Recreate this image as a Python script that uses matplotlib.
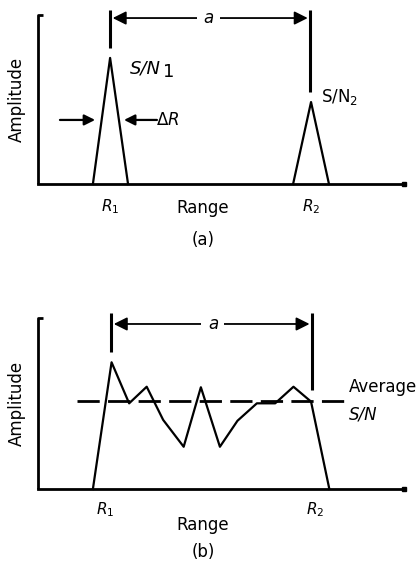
import matplotlib
matplotlib.use("Agg")
import matplotlib.pyplot as plt

plt.rcParams['font.family'] = ['DejaVu Sans']
plt.rcParams['mathtext.fontset'] = 'dejavusans'

# panel (a): two isolated targets (x = range, y = amplitude, both 0..100)
peak1_x = [15.0, 19.7, 24.6]
peak1_y = [0, 74.6, 0]
peak2_x = [69.7, 74.6, 79.5]
peak2_y = [0, 48.5, 0]

# panel (b): distributed return
sig_x = [15.0, 20.1, 24.9, 29.7, 34.2, 39.8, 44.5, 49.7, 54.5, 59.8, 64.8, 69.8, 74.6, 79.6]
sig_y = [0, 74.1, 50.1, 59.8, 40.4, 24.7, 59.5, 24.7, 39.9, 50.1, 50.1, 59.8, 51.1, 0]
avg_level = 51.5
avg_span = [10.7, 83.9]

fig = plt.figure(figsize=(4.19, 5.62), dpi=100)
ax_a = fig.add_axes([38 / 419, 1 - 184 / 562, 366 / 419, 169 / 562])
ax_b = fig.add_axes([38 / 419, 1 - 489 / 562, 366 / 419, 171 / 562])

LW_AX = 2.0
LW_MARK = 2.2
LW = 1.6
FS = 12


def frame(ax):
    ax.set_xlim(0, 100)
    ax.set_ylim(0, 100)
    ax.axis('off')
    ax.plot([1.3, 0, 0], [100, 100, 0], color='k', lw=LW_AX, clip_on=False,
            solid_capstyle='butt')
    ax.plot([0, 100], [0, 0], color='k', lw=LW_AX, clip_on=False)
    ax.plot([100], [0], 's', color='k', ms=3, clip_on=False)
    ax.text(-5.7, 50, 'Amplitude', rotation=90, ha='center', va='center', fontsize=FS)


def span_arrow(ax, x1, x2, y_top, y1_bot, y2_bot, y_arr, label_x):
    ax.plot([x1, x1], [y1_bot, y_top], color='k', lw=LW_MARK, clip_on=False,
            solid_capstyle='butt')
    ax.plot([x2, x2], [y2_bot, y_top], color='k', lw=LW_MARK, clip_on=False,
            solid_capstyle='butt')
    ax.annotate('', xy=(x1 + 0.7, y_arr), xytext=(x2 - 0.7, y_arr),
                arrowprops=dict(arrowstyle='<|-|>', lw=1.3, color='k',
                                mutation_scale=20, shrinkA=0, shrinkB=0),
                annotation_clip=False)
    ax.text(label_x, y_arr, 'a', style='italic', ha='center', va='center', fontsize=FS,
            bbox=dict(facecolor='white', edgecolor='none', pad=4.5))


# ---- (a)
frame(ax_a)
ax_a.plot(peak1_x, peak1_y, color='k', lw=LW, clip_on=False)
ax_a.plot(peak2_x, peak2_y, color='k', lw=LW, clip_on=False)
span_arrow(ax_a, 19.7, 74.4, 103, 80.5, 54.4, 98.2, 46.7)

ax_a.text(25.1, 68.3, 'S/N', style='italic', ha='left', va='center', fontsize=FS + 1)
ax_a.text(34.2, 66.4, '1', ha='left', va='center', fontsize=FS + 1)
ax_a.text(77.3, 51.5, 'S/N$_2$', ha='left', va='center', fontsize=FS)

ax_a.annotate('', xy=(15.6, 37.9), xytext=(6.0, 37.9),
              arrowprops=dict(arrowstyle='-|>', lw=LW, color='k',
                              mutation_scale=16, shrinkA=0, shrinkB=0))
ax_a.annotate('', xy=(23.5, 37.9), xytext=(32.5, 37.9),
              arrowprops=dict(arrowstyle='-|>', lw=LW, color='k',
                              mutation_scale=16, shrinkA=0, shrinkB=0))
ax_a.text(32.3, 37.9, r'$\Delta R$', ha='left', va='center', fontsize=FS)

ax_a.text(19.7, -13.6, r'$R_1$', ha='center', va='center', fontsize=FS - 1)
ax_a.text(74.6, -13.6, r'$R_2$', ha='center', va='center', fontsize=FS - 1)
ax_a.text(45.1, -14.2, 'Range', ha='center', va='center', fontsize=FS)
ax_a.text(45.1, -33.1, '(a)', ha='center', va='center', fontsize=FS)

# ---- (b)
frame(ax_b)
ax_b.plot(sig_x, sig_y, color='k', lw=LW, clip_on=False)
ax_b.plot(avg_span, [avg_level, avg_level], color='k', lw=LW_AX,
          dashes=(8, 3), clip_on=False)
span_arrow(ax_b, 20.0, 74.9, 102.9, 80.1, 57.9, 96.5, 47.8)

ax_b.text(85.0, 59.6, 'Average', ha='left', va='center', fontsize=FS)
ax_b.text(85.0, 43.3, 'S/N', style='italic', ha='left', va='center', fontsize=FS)

ax_b.text(18.3, -12.3, r'$R_1$', ha='center', va='center', fontsize=FS - 1)
ax_b.text(75.7, -12.3, r'$R_2$', ha='center', va='center', fontsize=FS - 1)
ax_b.text(45.1, -21.1, 'Range', ha='center', va='center', fontsize=FS)
ax_b.text(45.1, -36.8, '(b)', ha='center', va='center', fontsize=FS)

fig.savefig('out.png', dpi=100, facecolor='white')
